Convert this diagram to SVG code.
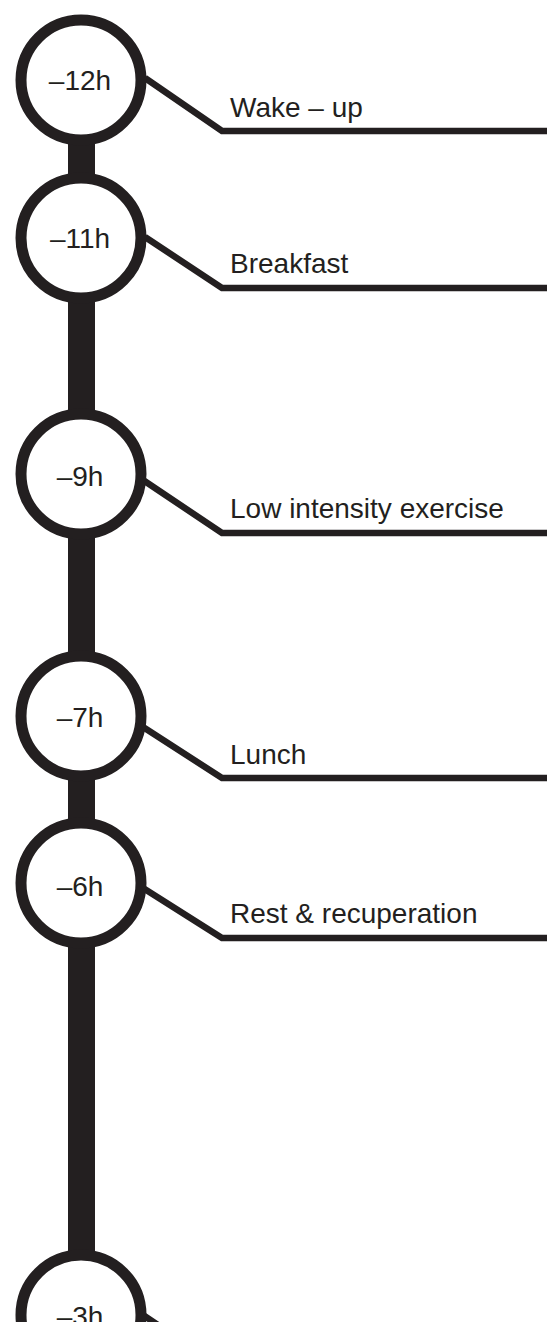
<svg xmlns="http://www.w3.org/2000/svg" width="547" height="1322" viewBox="0 0 547 1322">
<style>
.ring{fill:#fff;stroke:#231f20;stroke-width:11}
.t{font-family:"Liberation Sans",Arial,sans-serif;font-size:28px;fill:#231f20}
.c{text-anchor:middle}
.conn{fill:none;stroke:#231f20;stroke-width:6.5;stroke-linejoin:miter}
</style>
<rect width="547" height="1322" fill="#fff"/>
<rect id="spine" x="68" y="100" width="27" height="1222" fill="#231f20"/>
<g id="connectors">
<polyline class="conn" points="145,78 222,131 547,131"/>
<polyline class="conn" points="145,237 222,288 547,288"/>
<polyline class="conn" points="143,480 222,533 547,533"/>
<polyline class="conn" points="143,727 222,778 547,778"/>
<polyline class="conn" points="143,888 222,938 547,938"/>
<polyline class="conn" points="143,1315 222,1368 547,1368"/>
</g>
<g id="n12"><circle class="ring" cx="81" cy="80" r="60"/><text class="t c" x="80" y="90">–12h</text><text class="t" x="230" y="117">Wake – up</text></g>
<g id="n11"><circle class="ring" cx="81" cy="238" r="60"/><text class="t c" x="80" y="248">–11h</text><text class="t" x="230" y="273">Breakfast</text></g>
<g id="n9"><circle class="ring" cx="81" cy="474" r="60"/><text class="t c" x="80" y="486">–9h</text><text class="t" x="230" y="518">Low intensity exercise</text></g>
<g id="n7"><circle class="ring" cx="81" cy="716" r="60"/><text class="t c" x="80" y="727">–7h</text><text class="t" x="230" y="764">Lunch</text></g>
<g id="n6"><circle class="ring" cx="81" cy="883" r="60"/><text class="t c" x="80" y="896">–6h</text><text class="t" x="230" y="923">Rest &amp; recuperation</text></g>
<g id="n3"><circle class="ring" cx="81" cy="1315" r="60"/><text class="t c" x="80" y="1326">–3h</text></g>
</svg>
